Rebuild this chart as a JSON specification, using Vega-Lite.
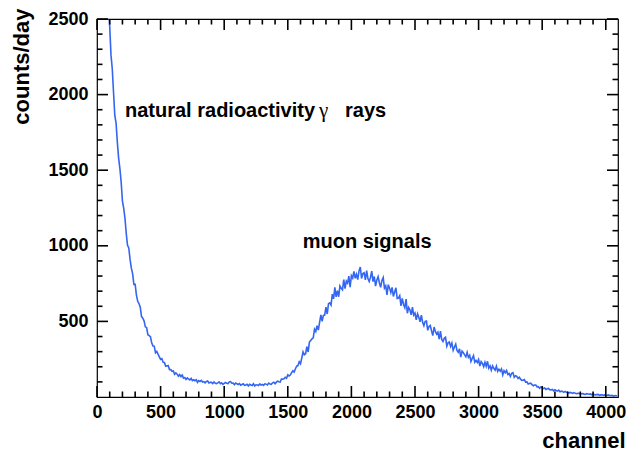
{
"$schema":"https://vega.github.io/schema/vega-lite/v6.json",
"width":521,"height":378,
"autosize":{"type":"none"},
"padding":{"left":97,"top":19,"right":8,"bottom":58},
"background":"white",
"config":{"view":{"stroke":"black","strokeWidth":1.2},"axis":{"grid":false,"domain":false,"ticks":false,"labelColor":"black","labelFont":"Liberation Sans","labelFontWeight":"bold","labelFontSize":18,"titleFont":"Liberation Sans","titleFontWeight":"bold","titleFontSize":22,"titleColor":"black","labelFlush":false,"labelOverlap":false,"format":"d"}},
"datasets":{
"xmaj":[{"v":0},{"v":500},{"v":1000},{"v":1500},{"v":2000},{"v":2500},{"v":3000},{"v":3500},{"v":4000}],
"xmin":[{"v":100},{"v":200},{"v":300},{"v":400},{"v":600},{"v":700},{"v":800},{"v":900},{"v":1100},{"v":1200},{"v":1300},{"v":1400},{"v":1600},{"v":1700},{"v":1800},{"v":1900},{"v":2100},{"v":2200},{"v":2300},{"v":2400},{"v":2600},{"v":2700},{"v":2800},{"v":2900},{"v":3100},{"v":3200},{"v":3300},{"v":3400},{"v":3600},{"v":3700},{"v":3800},{"v":3900}],
"ymaj":[{"v":500},{"v":1000},{"v":1500},{"v":2000},{"v":2500}],
"ymin":[{"v":100},{"v":200},{"v":300},{"v":400},{"v":600},{"v":700},{"v":800},{"v":900},{"v":1100},{"v":1200},{"v":1300},{"v":1400},{"v":1600},{"v":1700},{"v":1800},{"v":1900},{"v":2100},{"v":2200},{"v":2300},{"v":2400}]
},
"layer":[
{"data":{"values":[
{"c":0,"n":4480},{"c":10,"n":4210},{"c":20,"n":3940},{"c":30,"n":3710},{"c":40,"n":3470},{"c":50,"n":3280},{"c":60,"n":3060},{"c":70,"n":2900},{"c":80,"n":2710},{"c":90,"n":2590},
{"c":100,"n":2450},{"c":110,"n":2261},{"c":120,"n":2171},{"c":130,"n":2014},{"c":140,"n":1862},{"c":150,"n":1812},{"c":160,"n":1684},{"c":170,"n":1580},{"c":180,"n":1511},{"c":190,"n":1421},
{"c":200,"n":1295},{"c":210,"n":1247},{"c":220,"n":1182},{"c":230,"n":1080},{"c":240,"n":1003},{"c":250,"n":986},{"c":260,"n":910},{"c":270,"n":852},{"c":280,"n":816},{"c":290,"n":745},
{"c":300,"n":745},{"c":310,"n":673},{"c":320,"n":633},{"c":330,"n":618},{"c":340,"n":594},{"c":350,"n":532},{"c":360,"n":522},{"c":370,"n":504},{"c":380,"n":464},{"c":390,"n":459},
{"c":400,"n":412},{"c":410,"n":406},{"c":420,"n":399},{"c":430,"n":359},{"c":440,"n":337},{"c":450,"n":336},{"c":460,"n":293},{"c":470,"n":302},{"c":480,"n":283},{"c":490,"n":266},
{"c":500,"n":249},{"c":510,"n":254},{"c":520,"n":230},{"c":530,"n":228},{"c":540,"n":203},{"c":550,"n":206},{"c":560,"n":207},{"c":570,"n":181},{"c":580,"n":181},{"c":590,"n":170},
{"c":600,"n":172},{"c":610,"n":150},{"c":620,"n":159},{"c":630,"n":151},{"c":640,"n":138},{"c":650,"n":148},{"c":660,"n":135},{"c":670,"n":145},{"c":680,"n":125},{"c":690,"n":129},
{"c":700,"n":116},{"c":710,"n":126},{"c":720,"n":119},{"c":730,"n":113},{"c":740,"n":123},{"c":750,"n":108},{"c":760,"n":114},{"c":770,"n":108},{"c":780,"n":114},{"c":790,"n":97},
{"c":800,"n":109},{"c":810,"n":103},{"c":820,"n":110},{"c":830,"n":99},{"c":840,"n":102},{"c":850,"n":94},{"c":860,"n":103},{"c":870,"n":106},{"c":880,"n":93},{"c":890,"n":97},
{"c":900,"n":97},{"c":910,"n":89},{"c":920,"n":100},{"c":930,"n":91},{"c":940,"n":89},{"c":950,"n":93},{"c":960,"n":100},{"c":970,"n":88},{"c":980,"n":94},{"c":990,"n":83},
{"c":1000,"n":90},{"c":1010,"n":96},{"c":1020,"n":91},{"c":1030,"n":89},{"c":1040,"n":99},{"c":1050,"n":102},{"c":1060,"n":91},{"c":1070,"n":92},{"c":1080,"n":81},{"c":1090,"n":92},
{"c":1100,"n":88},{"c":1110,"n":83},{"c":1120,"n":89},{"c":1130,"n":78},{"c":1140,"n":83},{"c":1150,"n":88},{"c":1160,"n":77},{"c":1170,"n":79},{"c":1180,"n":84},{"c":1190,"n":73},
{"c":1200,"n":84},{"c":1210,"n":79},{"c":1220,"n":76},{"c":1230,"n":88},{"c":1240,"n":73},{"c":1250,"n":81},{"c":1260,"n":80},{"c":1270,"n":76},{"c":1280,"n":87},{"c":1290,"n":79},
{"c":1300,"n":83},{"c":1310,"n":77},{"c":1320,"n":87},{"c":1330,"n":85},{"c":1340,"n":80},{"c":1350,"n":92},{"c":1360,"n":86},{"c":1370,"n":84},{"c":1380,"n":94},{"c":1390,"n":98},
{"c":1400,"n":88},{"c":1410,"n":98},{"c":1420,"n":105},{"c":1430,"n":101},{"c":1440,"n":99},{"c":1450,"n":119},{"c":1460,"n":118},{"c":1470,"n":120},{"c":1480,"n":130},{"c":1490,"n":124},
{"c":1500,"n":146},{"c":1510,"n":139},{"c":1520,"n":145},{"c":1530,"n":161},{"c":1540,"n":173},{"c":1550,"n":165},{"c":1560,"n":187},{"c":1570,"n":204},{"c":1580,"n":208},{"c":1590,"n":233},
{"c":1600,"n":220},{"c":1610,"n":258},{"c":1620,"n":298},{"c":1630,"n":279},{"c":1640,"n":286},{"c":1650,"n":333},{"c":1660,"n":298},{"c":1670,"n":363},{"c":1680,"n":374},{"c":1690,"n":384},
{"c":1700,"n":391},{"c":1710,"n":448},{"c":1720,"n":433},{"c":1730,"n":472},{"c":1740,"n":443},{"c":1750,"n":494},{"c":1760,"n":543},{"c":1770,"n":501},{"c":1780,"n":540},{"c":1790,"n":542},
{"c":1800,"n":594},{"c":1810,"n":549},{"c":1820,"n":617},{"c":1830,"n":623},{"c":1840,"n":608},{"c":1850,"n":680},{"c":1860,"n":649},{"c":1870,"n":725},{"c":1880,"n":662},{"c":1890,"n":703},
{"c":1900,"n":663},{"c":1910,"n":735},{"c":1920,"n":719},{"c":1930,"n":709},{"c":1940,"n":777},{"c":1950,"n":717},{"c":1960,"n":767},{"c":1970,"n":753},{"c":1980,"n":799},{"c":1990,"n":726},
{"c":2000,"n":803},{"c":2010,"n":787},{"c":2020,"n":831},{"c":2030,"n":785},{"c":2040,"n":812},{"c":2050,"n":777},{"c":2060,"n":834},{"c":2070,"n":860},{"c":2080,"n":784},{"c":2090,"n":817},
{"c":2100,"n":822},{"c":2110,"n":774},{"c":2120,"n":836},{"c":2130,"n":783},{"c":2140,"n":764},{"c":2150,"n":791},{"c":2160,"n":832},{"c":2170,"n":763},{"c":2180,"n":797},{"c":2190,"n":733},
{"c":2200,"n":774},{"c":2210,"n":796},{"c":2220,"n":756},{"c":2230,"n":726},{"c":2240,"n":771},{"c":2250,"n":790},{"c":2260,"n":721},{"c":2270,"n":735},{"c":2280,"n":675},{"c":2290,"n":743},
{"c":2300,"n":720},{"c":2310,"n":690},{"c":2320,"n":725},{"c":2330,"n":665},{"c":2340,"n":694},{"c":2350,"n":722},{"c":2360,"n":652},{"c":2370,"n":654},{"c":2380,"n":670},{"c":2390,"n":602},
{"c":2400,"n":652},{"c":2410,"n":612},{"c":2420,"n":591},{"c":2430,"n":647},{"c":2440,"n":554},{"c":2450,"n":592},{"c":2460,"n":577},{"c":2470,"n":544},{"c":2480,"n":595},{"c":2490,"n":542},
{"c":2500,"n":555},{"c":2510,"n":510},{"c":2520,"n":550},{"c":2530,"n":527},{"c":2540,"n":497},{"c":2550,"n":542},{"c":2560,"n":494},{"c":2570,"n":471},{"c":2580,"n":500},{"c":2590,"n":502},
{"c":2600,"n":441},{"c":2610,"n":466},{"c":2620,"n":473},{"c":2630,"n":437},{"c":2640,"n":406},{"c":2650,"n":463},{"c":2660,"n":434},{"c":2670,"n":416},{"c":2680,"n":429},{"c":2690,"n":383},
{"c":2700,"n":436},{"c":2710,"n":381},{"c":2720,"n":367},{"c":2730,"n":388},{"c":2740,"n":395},{"c":2750,"n":336},{"c":2760,"n":358},{"c":2770,"n":364},{"c":2780,"n":334},{"c":2790,"n":357},
{"c":2800,"n":309},{"c":2810,"n":331},{"c":2820,"n":350},{"c":2830,"n":308},{"c":2840,"n":296},{"c":2850,"n":319},{"c":2860,"n":264},{"c":2870,"n":304},{"c":2880,"n":293},{"c":2890,"n":279},
{"c":2900,"n":266},{"c":2910,"n":295},{"c":2920,"n":262},{"c":2930,"n":275},{"c":2940,"n":235},{"c":2950,"n":256},{"c":2960,"n":274},{"c":2970,"n":230},{"c":2980,"n":242},{"c":2990,"n":228},
{"c":3000,"n":248},{"c":3010,"n":204},{"c":3020,"n":234},{"c":3030,"n":222},{"c":3040,"n":200},{"c":3050,"n":230},{"c":3060,"n":203},{"c":3070,"n":236},{"c":3080,"n":191},{"c":3090,"n":206},
{"c":3100,"n":177},{"c":3110,"n":206},{"c":3120,"n":190},{"c":3130,"n":177},{"c":3140,"n":204},{"c":3150,"n":169},{"c":3160,"n":184},{"c":3170,"n":171},{"c":3180,"n":186},{"c":3190,"n":147},
{"c":3200,"n":174},{"c":3210,"n":161},{"c":3220,"n":176},{"c":3230,"n":149},{"c":3240,"n":155},{"c":3250,"n":136},{"c":3260,"n":157},{"c":3270,"n":161},{"c":3280,"n":130},{"c":3290,"n":141},
{"c":3300,"n":136},{"c":3310,"n":123},{"c":3320,"n":131},{"c":3330,"n":118},{"c":3340,"n":110},{"c":3350,"n":111},{"c":3360,"n":115},{"c":3370,"n":99},{"c":3380,"n":100},{"c":3390,"n":86},
{"c":3400,"n":89},{"c":3410,"n":91},{"c":3420,"n":82},{"c":3430,"n":74},{"c":3440,"n":79},{"c":3450,"n":79},{"c":3460,"n":67},{"c":3470,"n":68},{"c":3480,"n":57},{"c":3490,"n":66},
{"c":3500,"n":62},{"c":3510,"n":56},{"c":3520,"n":60},{"c":3530,"n":50},{"c":3540,"n":54},{"c":3550,"n":57},{"c":3560,"n":48},{"c":3570,"n":47},{"c":3580,"n":50},{"c":3590,"n":41},
{"c":3600,"n":48},{"c":3610,"n":43},{"c":3620,"n":39},{"c":3630,"n":46},{"c":3640,"n":35},{"c":3650,"n":39},{"c":3660,"n":37},{"c":3670,"n":31},{"c":3680,"n":37},{"c":3690,"n":31},
{"c":3700,"n":31},{"c":3710,"n":26},{"c":3720,"n":30},{"c":3730,"n":28},{"c":3740,"n":24},{"c":3750,"n":29},{"c":3760,"n":24},{"c":3770,"n":22},{"c":3780,"n":24},{"c":3790,"n":25},
{"c":3800,"n":19},{"c":3810,"n":21},{"c":3820,"n":22},{"c":3830,"n":19},{"c":3840,"n":17},{"c":3850,"n":22},{"c":3860,"n":20},{"c":3870,"n":18},{"c":3880,"n":20},{"c":3890,"n":15},
{"c":3900,"n":21},{"c":3910,"n":15},{"c":3920,"n":14},{"c":3930,"n":16},{"c":3940,"n":17},{"c":3950,"n":11},{"c":3960,"n":14},{"c":3970,"n":14},{"c":3980,"n":12},{"c":3990,"n":14},
{"c":4000,"n":10},{"c":4010,"n":12},{"c":4020,"n":14},{"c":4030,"n":10},{"c":4040,"n":9},{"c":4050,"n":11},{"c":4060,"n":6},{"c":4070,"n":10},{"c":4080,"n":8},{"c":4090,"n":8}
]},
"mark":{"type":"line","color":"#3466f2","strokeWidth":1.6,"clip":true},
"encoding":{
"x":{"field":"c","type":"quantitative","scale":{"domain":[0,4096],"nice":false,"zero":false},
"axis":{"orient":"bottom","values":[0,500,1000,1500,2000,2500,3000,3500,4000],"labelPadding":6,"title":"channel","titleAlign":"right","titleAnchor":"end","titleX":528,"titleY":50,"titleBaseline":"alphabetic"}},
"y":{"field":"n","type":"quantitative","scale":{"domain":[0,2500],"nice":false,"zero":false},
"axis":{"orient":"left","values":[500,1000,1500,2000,2500],"labelPadding":9,"title":"counts/day","titleAngle":-90,"titleAlign":"right","titleAnchor":"end","titleX":-76,"titleY":-11,"titleBaseline":"middle"}}
}},
{"data":{"name":"xmaj"},"mark":{"type":"rule","color":"#000000","strokeWidth":1.6,"strokeCap":"butt"},
"encoding":{"x":{"field":"v","type":"quantitative"},"y":{"datum":0,"type":"quantitative"},"y2":{"datum":72.75}}},
{"data":{"name":"xmaj"},"mark":{"type":"rule","color":"#000000","strokeWidth":1.6,"strokeCap":"butt"},
"encoding":{"x":{"field":"v","type":"quantitative"},"y":{"datum":2500,"type":"quantitative"},"y2":{"datum":2427.25}}},
{"data":{"name":"xmin"},"mark":{"type":"rule","color":"#000000","strokeWidth":1.6,"strokeCap":"butt"},
"encoding":{"x":{"field":"v","type":"quantitative"},"y":{"datum":0,"type":"quantitative"},"y2":{"datum":36.4}}},
{"data":{"name":"xmin"},"mark":{"type":"rule","color":"#000000","strokeWidth":1.6,"strokeCap":"butt"},
"encoding":{"x":{"field":"v","type":"quantitative"},"y":{"datum":2500,"type":"quantitative"},"y2":{"datum":2463.6}}},
{"data":{"name":"ymaj"},"mark":{"type":"rule","color":"#000000","strokeWidth":1.6,"strokeCap":"butt"},
"encoding":{"y":{"field":"v","type":"quantitative"},"x":{"datum":0,"type":"quantitative"},"x2":{"datum":86.5}}},
{"data":{"name":"ymaj"},"mark":{"type":"rule","color":"#000000","strokeWidth":1.6,"strokeCap":"butt"},
"encoding":{"y":{"field":"v","type":"quantitative"},"x":{"datum":4096,"type":"quantitative"},"x2":{"datum":4009.5}}},
{"data":{"name":"ymin"},"mark":{"type":"rule","color":"#000000","strokeWidth":1.6,"strokeCap":"butt"},
"encoding":{"y":{"field":"v","type":"quantitative"},"x":{"datum":0,"type":"quantitative"},"x2":{"datum":43.2}}},
{"data":{"name":"ymin"},"mark":{"type":"rule","color":"#000000","strokeWidth":1.6,"strokeCap":"butt"},
"encoding":{"y":{"field":"v","type":"quantitative"},"x":{"datum":4096,"type":"quantitative"},"x2":{"datum":4052.8}}},
{"data":{"values":[{"t":"natural radioactivity","c":220,"n":1852},{"t":"rays","c":1950,"n":1852},{"t":"muon signals","c":1617,"n":983}]},
"mark":{"type":"text","align":"left","baseline":"alphabetic","font":"Liberation Sans","fontWeight":"bold","fontSize":20,"color":"black"},
"encoding":{
"x":{"field":"c","type":"quantitative"},
"y":{"field":"n","type":"quantitative"},
"text":{"field":"t"}}},
{"data":{"values":[{"t":"γ","c":1745,"n":1852}]},
"mark":{"type":"text","align":"left","baseline":"alphabetic","font":"Liberation Serif","fontSize":21,"color":"black"},
"encoding":{
"x":{"field":"c","type":"quantitative"},
"y":{"field":"n","type":"quantitative"},
"text":{"field":"t"}}}
]
}
